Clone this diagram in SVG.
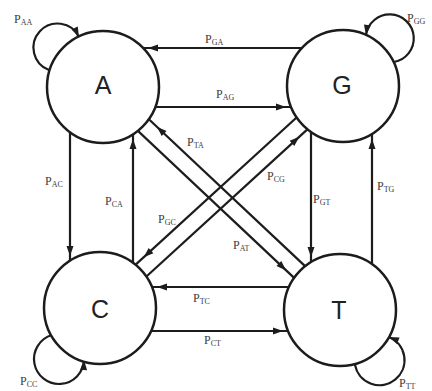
<svg xmlns="http://www.w3.org/2000/svg" width="432" height="391" viewBox="0 0 432 391">
<style>
.edge{fill:none;stroke:#1c1c1c;stroke-width:2.2}
.node circle{fill:#fff;stroke:#1c1c1c;stroke-width:2.5}
.node text{font-family:"Liberation Sans",Arial,sans-serif;font-size:25px;fill:#222;text-anchor:middle}
.lbl{font-family:"Liberation Serif","Times New Roman",serif;font-size:12px;fill:#3d3d3d}
.sub{font-size:8px}
</style>
<defs>
<marker id="ah" markerUnits="userSpaceOnUse" markerWidth="18" markerHeight="7" refX="16" refY="3.5" orient="auto" overflow="visible"><path d="M0,0 L10,3.5 L0,7 z" fill="#1c1c1c"/></marker>
<marker id="ahd" markerUnits="userSpaceOnUse" markerWidth="24" markerHeight="7" refX="22" refY="3.5" orient="auto" overflow="visible"><path d="M0,0 L10,3.5 L0,7 z" fill="#1c1c1c"/></marker>
<marker id="ahl" markerUnits="userSpaceOnUse" markerWidth="10" markerHeight="7" refX="10" refY="3.5" orient="auto" overflow="visible"><path d="M0,0 L10,3.5 L0,7 z" fill="#1c1c1c"/></marker>
</defs>
<g id="connectors">
<path class="edge" d="M303,48 L142,48" marker-end="url(#ah)"/>
<path class="edge" d="M154,107 L292,107" marker-end="url(#ah)"/>
<path class="edge" d="M70,131 L70,262" marker-end="url(#ah)"/>
<path class="edge" d="M133,264 L133,133" marker-end="url(#ah)"/>
<path class="edge" d="M311,131 L311,263" marker-end="url(#ah)"/>
<path class="edge" d="M372,265 L372,133" marker-end="url(#ah)"/>
<path class="edge" d="M290,287 L151,287" marker-end="url(#ah)"/>
<path class="edge" d="M150,331 L289,331" marker-end="url(#ah)"/>
<path class="edge" d="M305.9,266.9 L148.1,118.5" marker-end="url(#ahd)"/>
<path class="edge" d="M137.1,130.1 L294.9,278.6" marker-end="url(#ahd)"/>
<path class="edge" d="M297.4,116.8 L134.8,265.4" marker-end="url(#ahd)"/>
<path class="edge" d="M145.6,277.2 L308.2,128.6" marker-end="url(#ahd)"/>
<path class="edge" d="M49,70 A24,24 0 1,1 79,37" marker-end="url(#ahl)"/>
<path class="edge" d="M394,62 A24,24 0 1,0 366,35" marker-end="url(#ahl)"/>
<path class="edge" d="M52,335 A25,25 0 1,0 84,360" marker-end="url(#ahl)"/>
<path class="edge" d="M355,365 A25,25 0 1,0 389,337" marker-end="url(#ahl)"/>
</g>
<g id="labels">
<text class="lbl" x="14" y="23">P<tspan class="sub" dy="2">AA</tspan></text>
<text class="lbl" x="407" y="22">P<tspan class="sub" dy="2">GG</tspan></text>
<text class="lbl" x="20" y="385">P<tspan class="sub" dy="2">CC</tspan></text>
<text class="lbl" x="399" y="387">P<tspan class="sub" dy="2">TT</tspan></text>
<text class="lbl" x="205" y="43">P<tspan class="sub" dy="2">GA</tspan></text>
<text class="lbl" x="216" y="98">P<tspan class="sub" dy="2">AG</tspan></text>
<text class="lbl" x="45" y="185">P<tspan class="sub" dy="2">AC</tspan></text>
<text class="lbl" x="105" y="205">P<tspan class="sub" dy="2">CA</tspan></text>
<text class="lbl" x="313" y="203">P<tspan class="sub" dy="2">GT</tspan></text>
<text class="lbl" x="377" y="190">P<tspan class="sub" dy="2">TG</tspan></text>
<text class="lbl" x="187" y="146">P<tspan class="sub" dy="2">TA</tspan></text>
<text class="lbl" x="267" y="180">P<tspan class="sub" dy="2">CG</tspan></text>
<text class="lbl" x="158" y="223">P<tspan class="sub" dy="2">GC</tspan></text>
<text class="lbl" x="233" y="249">P<tspan class="sub" dy="2">AT</tspan></text>
<text class="lbl" x="193" y="302">P<tspan class="sub" dy="2">TC</tspan></text>
<text class="lbl" x="204" y="344">P<tspan class="sub" dy="2">CT</tspan></text>
</g>
<g id="node-A" class="node"><circle cx="103" cy="87" r="56"/><text x="103" y="94">A</text></g>
<g id="node-G" class="node"><circle cx="343" cy="86" r="56"/><text x="342" y="94">G</text></g>
<g id="node-C" class="node"><circle cx="100" cy="308" r="56"/><text x="100" y="318">C</text></g>
<g id="node-T" class="node"><circle cx="340" cy="310" r="56"/><text x="339" y="319">T</text></g>
</svg>
